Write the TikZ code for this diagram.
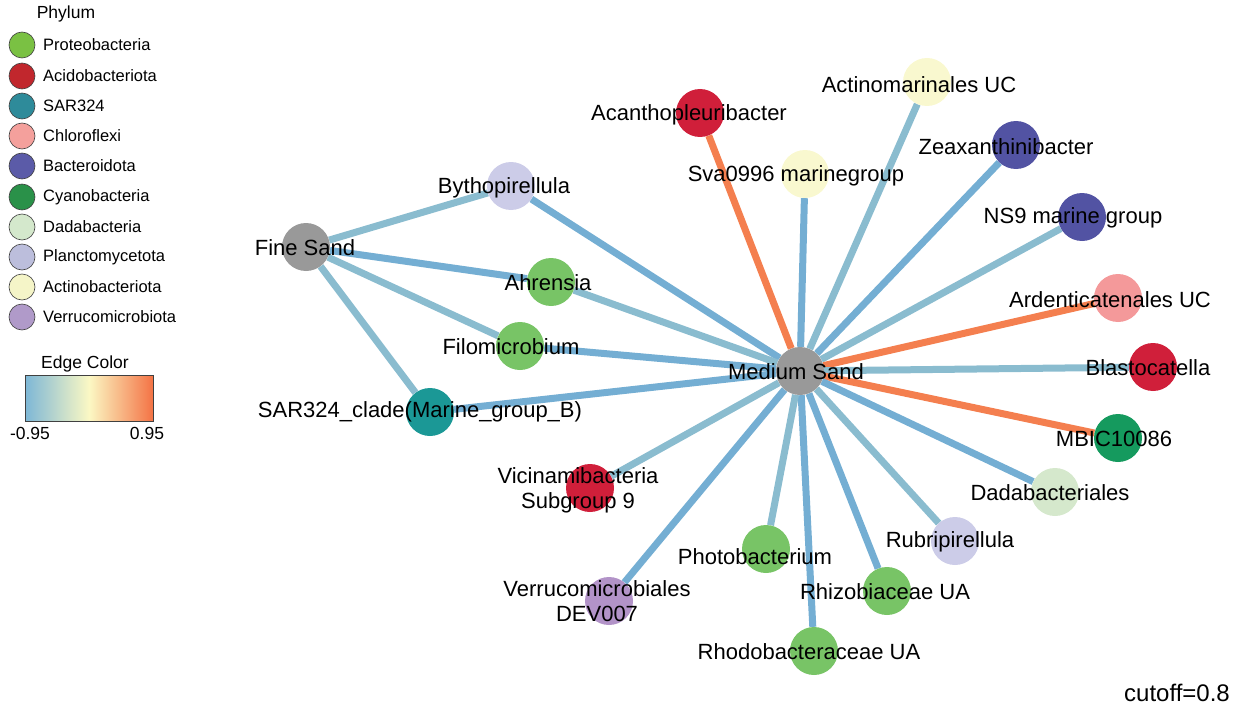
\documentclass[tikz,border=0pt]{standalone}
\usepackage{fontspec}
\setmainfont{Liberation Sans}
\usetikzlibrary{backgrounds}
\definecolor{nGray}{HTML}{999999}
\definecolor{nProt}{HTML}{78C466}
\definecolor{nAcid}{HTML}{D01F3A}
\definecolor{nSAR}{HTML}{1B9896}
\definecolor{nChlo}{HTML}{F4999A}
\definecolor{nBact}{HTML}{5253A3}
\definecolor{nCyan}{HTML}{159A5E}
\definecolor{nDada}{HTML}{D5E8CC}
\definecolor{nPlan}{HTML}{CCCCE8}
\definecolor{nActi}{HTML}{F9F8CF}
\definecolor{nVerr}{HTML}{B293C8}
\definecolor{gProt}{HTML}{7AC143}
\definecolor{gAcid}{HTML}{C1272D}
\definecolor{gSAR}{HTML}{2E8B9A}
\definecolor{gChlo}{HTML}{F4A09C}
\definecolor{gBact}{HTML}{5B5BA8}
\definecolor{gCyan}{HTML}{2A9149}
\definecolor{gDada}{HTML}{D4E8CC}
\definecolor{gPlan}{HTML}{BCBEDC}
\definecolor{gActi}{HTML}{F5F5C8}
\definecolor{gVerr}{HTML}{B09AC9}
\definecolor{eBlue}{HTML}{74AED3}
\definecolor{eGrey}{HTML}{8ABCCF}
\definecolor{eOrange}{HTML}{F47F4F}
\definecolor{gradL}{HTML}{7DB7D6}
\definecolor{gradM}{HTML}{FBF8C4}
\definecolor{gradR}{HTML}{F47345}
\tikzset{
  taxon/.style={circle, minimum size=48pt, inner sep=0pt, fill=#1},
  lab/.style={font=\fontsize{22}{25}\selectfont, text=black, inner sep=0pt, align=center},
  edgeB/.style={draw=eBlue, line width=7pt},
  edgeG/.style={draw=eGrey, line width=7pt},
  edgeO/.style={draw=eOrange, line width=7pt},
  legdot/.style={circle, minimum size=26pt, inner sep=0pt, fill=#1, draw=black!75, line width=0.6pt},
  legtxt/.style={font=\fontsize{16.5}{18}\selectfont, anchor=west, inner sep=0pt},
  legtitle/.style={font=\fontsize{17.5}{19}\selectfont, inner sep=0pt},
}
\begin{document}
\begin{tikzpicture}[x=1pt,y=-1pt]
\useasboundingbox (0,0) rectangle (1239,706);
% legend
\node[legtitle] (phy) at (66,14) {Phylum};
\foreach \c/\t/\y [count=\i] in {gProt/Proteobacteria/45, gAcid/Acidobacteriota/76, gSAR/SAR324/106, gChlo/Chloroflexi/136, gBact/Bacteroidota/166, gCyan/Cyanobacteria/197, gDada/Dadabacteria/227, gPlan/Planctomycetota/257, gActi/Actinobacteriota/287, gVerr/Verrucomicrobiota/317}{
  \node[legdot=\c] (ld\i) at (22,\y) {};
  \node[legtxt] (lt\i) at (43,\y) {\t};
}
\node[legtitle] (ectitle) at (85,364) {Edge Color};
\shade[left color=gradL, right color=gradR, middle color=gradM] (25,375) rectangle (153,421);
\draw[black!75, line width=0.8pt] (25,375) rectangle (153,421);
\node[legtitle] (ecmin) at (30,433) {-0.95};
\node[legtitle] (ecmax) at (147,433) {0.95};
% nodes
\node[taxon=nGray] (fine) at (306,247) {};
\node[taxon=nGray] (med) at (800,371) {};
\node[taxon=nPlan] (bytho) at (511,186) {};
\node[taxon=nProt] (ahren) at (551,282) {};
\node[taxon=nProt] (filo) at (520,346) {};
\node[taxon=nSAR] (sar) at (430,412) {};
\node[taxon=nAcid] (acan) at (700,113) {};
\node[taxon=nActi] (actino) at (927,82) {};
\node[taxon=nActi] (sva) at (805,174) {};
\node[taxon=nBact] (zea) at (1016,145) {};
\node[taxon=nBact] (ns9) at (1082,217) {};
\node[taxon=nChlo] (arden) at (1118,298) {};
\node[taxon=nAcid] (blast) at (1153,367) {};
\node[taxon=nCyan] (mbic) at (1118,438) {};
\node[taxon=nDada] (dada) at (1055,492) {};
\node[taxon=nPlan] (rubri) at (955,541) {};
\node[taxon=nProt] (rhizo) at (887,591) {};
\node[taxon=nProt] (rhodo) at (814,651) {};
\node[taxon=nProt] (photo) at (766,549) {};
\node[taxon=nVerr] (verru) at (609,601) {};
\node[taxon=nAcid] (vicin) at (590,488) {};
% edges
\begin{scope}[on background layer]
\draw[edgeG] (fine) -- (bytho);
\draw[edgeB] (fine) -- (ahren);
\draw[edgeG] (fine) -- (filo);
\draw[edgeG] (fine) -- (sar);
\draw[edgeB] (med) -- (bytho);
\draw[edgeG] (med) -- (ahren);
\draw[edgeB] (med) -- (filo);
\draw[edgeB] (med) -- (sar);
\draw[edgeO] (med) -- (acan);
\draw[edgeB] (med) -- (sva);
\draw[edgeG] (med) -- (actino);
\draw[edgeB] (med) -- (zea);
\draw[edgeG] (med) -- (ns9);
\draw[edgeO] (med) -- (arden);
\draw[edgeG] (med) -- (blast);
\draw[edgeO] (med) -- (mbic);
\draw[edgeB] (med) -- (dada);
\draw[edgeG] (med) -- (rubri);
\draw[edgeB] (med) -- (rhizo);
\draw[edgeB] (med) -- (rhodo);
\draw[edgeG] (med) -- (photo);
\draw[edgeB] (med) -- (verru);
\draw[edgeG] (med) -- (vicin);
\end{scope}
% labels
\node[lab] (tfine) at (305,248) {Fine Sand};
\node[lab] (tmed) at (796,372) {Medium Sand};
\node[lab] (tbytho) at (504,188) {Bythopirellula};
\node[lab] (tahren) at (548,283) {Ahrensia};
\node[lab] (tfilo) at (511,347) {Filomicrobium};
\node[lab] (tsar) at (420,412) {SAR324\_clade(Marine\_group\_B)};
\node[lab] (tacan) at (689,115) {Acanthopleuribacter};
\node[lab] (tactino) at (919,85) {Actinomarinales UC};
\node[lab] (tsva) at (796,176) {Sva0996 marinegroup};
\node[lab] (tzea) at (1006,147) {Zeaxanthinibacter};
\node[lab] (tns9) at (1073,218) {NS9 marine group};
\node[lab] (tarden) at (1110,300) {Ardenticatenales UC};
\node[lab] (tblast) at (1148,368) {Blastocatella};
\node[lab] (tmbic) at (1114,439) {MBIC10086};
\node[lab] (tdada) at (1050,493) {Dadabacteriales};
\node[lab] (trubri) at (950,542) {Rubripirellula};
\node[lab] (trhizo) at (885,592) {Rhizobiaceae UA};
\node[lab] (trhodo) at (809,652) {Rhodobacteraceae UA};
\node[lab] (tphoto) at (755,557) {Photobacterium};
\node[lab] (tverru) at (597,601) {Verrucomicrobiales\\DEV007};
\node[lab] (tvicin) at (578,490) {Vicinamibacteria\\Subgroup 9};
\node[lab, font=\fontsize{24}{26}\selectfont, anchor=east] (cutoff) at (1230,693) {cutoff=0.8};
\end{tikzpicture}
\end{document}
